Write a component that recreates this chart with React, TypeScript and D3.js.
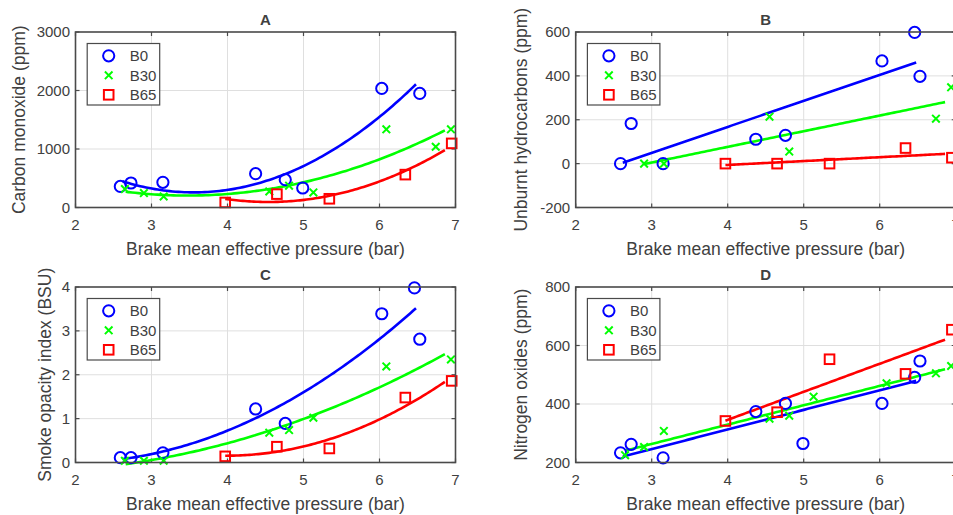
import React from 'react';
import * as d3 from 'd3';

// ---- data ----
const N = NaN;
const SERIES = ['B0', 'B30', 'B65'];
const BMEP_B0 = [2.59, 2.73, 3.15, 4.37, 4.76, 4.99, 6.03, 6.46, 6.53];
const BMEP_B30 = [2.65, 2.9, 3.16, 4.55, 4.81, 5.13, 6.09, 6.74, 6.94];
const BMEP_B65 = [3.97, 4.65, 5.34, 6.34, 6.95];

const CO_B0 = [361, 419, 430, 579, 476, 333, 2036, N, 1950];
const CO_B30 = [315, 247, 189, 275, 373, 258, 1336, 1038, 1336];
const CO_B65 = [86, 229, 149, 562, 1096];

const HC_B0 = [0, 183, 0, 111, 129, N, 468, 598, 398];
const HC_B30 = [N, 0, 0, 214, 55, N, N, 205, 348];
const HC_B65 = [0, 0, 0, 71, 27];

const SO_B0 = [0.11, 0.11, 0.22, 1.22, 0.89, N, 3.39, 3.98, 2.81];
const SO_B30 = [0.04, 0.04, 0.04, 0.68, 0.74, 1.02, 2.19, N, 2.35];
const SO_B65 = [0.14, 0.36, 0.32, 1.48, 1.86];

const NOX_B0 = [233, 262, 216, 374, 402, 265, 402, 491, 547];
const NOX_B30 = [225, 253, 308, 350, 360, 425, 471, 505, 530];
const NOX_B65 = [342, 372, 553, 503, 654];

const FIT_START = [2.62, 2.66, 3.97];
const FIT_END = [6.48, 6.86, 6.86];

const X_TICKS = [2, 3, 4, 5, 6, 7];
const CO_TICKS = [0, 1000, 2000, 3000];
const HC_TICKS = [-200, 0, 200, 400, 600];
const SO_TICKS = [0, 1, 2, 3, 4];
const NOX_TICKS = [200, 400, 600, 800];

const X_LABEL = 'Brake mean effective pressure (bar)';

// ---- styles / layout ----
const COLORS = ['#0000ff', '#00ff00', '#ff0000'];
const TEXT = '#404040';
const AXIS = '#4a4a4a';
const GRID = '#dfdfdf';
const FONT = '"Liberation Sans", Arial, Helvetica, sans-serif';
const W = 380;
const H = 175.5;

const XS = [BMEP_B0, BMEP_B30, BMEP_B65];

const panels = [
  { title: 'A', left: 75.5, top: 32, ydom: [0, 3000], ticks: CO_TICKS, ylab: 'Carbon monoxide (ppm)', labX: 25, ys: [CO_B0, CO_B30, CO_B65], deg: 2 },
  { title: 'B', left: 575.7, top: 32, ydom: [-200, 600], ticks: HC_TICKS, ylab: 'Unburnt hydrocarbons (ppm)', labX: 527, ys: [HC_B0, HC_B30, HC_B65], deg: 1 },
  { title: 'C', left: 75.5, top: 287, ydom: [0, 4], ticks: SO_TICKS, ylab: 'Smoke opacity index (BSU)', labX: 51, ys: [SO_B0, SO_B30, SO_B65], deg: 2 },
  { title: 'D', left: 575.7, top: 287, ydom: [200, 800], ticks: NOX_TICKS, ylab: 'Nitrogen oxides (ppm)', labX: 527, ys: [NOX_B0, NOX_B30, NOX_B65], deg: 1 },
];

function solve(A: number[][], b: number[]): number[] {
  const n = b.length;
  const M = A.map((r, i) => [...r, b[i]]);
  for (let c = 0; c < n; c++) {
    let p = c;
    for (let r = c + 1; r < n; r++) if (Math.abs(M[r][c]) > Math.abs(M[p][c])) p = r;
    [M[c], M[p]] = [M[p], M[c]];
    for (let r = 0; r < n; r++) {
      if (r === c) continue;
      const f = M[r][c] / M[c][c];
      for (let k = c; k <= n; k++) M[r][k] -= f * M[c][k];
    }
  }
  return M.map((r, i) => r[n] / r[i]);
}

function polyfit(x: number[], y: number[], deg: number): number[] {
  const n = deg + 1;
  const A = Array.from({ length: n }, () => new Array(n).fill(0));
  const b = new Array(n).fill(0);
  x.forEach((xi, k) => {
    for (let i = 0; i < n; i++) {
      b[i] += y[k] * Math.pow(xi, i);
      for (let j = 0; j < n; j++) A[i][j] += Math.pow(xi, i + j);
    }
  });
  return solve(A, b);
}

function Marker({ s, x, y }: { s: number; x: number; y: number }) {
  const c = COLORS[s];
  if (s === 0) return <circle cx={x} cy={y} r={5.6} fill="none" stroke={c} strokeWidth={2} />;
  if (s === 1)
    return (
      <path d={`M${x - 3.8},${y - 3.8}L${x + 3.8},${y + 3.8}M${x - 3.8},${y + 3.8}L${x + 3.8},${y - 3.8}`} stroke={c} strokeWidth={2} fill="none" />
    );
  return <rect x={x - 4.8} y={y - 4.8} width={9.6} height={9.6} fill="none" stroke={c} strokeWidth={2} />;
}

function Panel({ p }: { p: (typeof panels)[number] }) {
  const x = d3.scaleLinear().domain([2, 7]).range([p.left, p.left + W]);
  const y = d3.scaleLinear().domain(p.ydom).range([p.top + H, p.top]);
  const bottom = p.top + H;
  const right = p.left + W;
  const cx = p.left + W / 2;
  const line = d3
    .line<[number, number]>()
    .x((d) => x(d[0]))
    .y((d) => y(d[1]));

  const fits = p.ys.map((ys, s) => {
    const pts = XS[s].map((xv, i) => [xv, ys[i]]).filter((d) => !isNaN(d[1]));
    const coef = polyfit(pts.map((d) => d[0]), pts.map((d) => d[1]), p.deg);
    const x0 = Math.max(FIT_START[s], d3.min(pts, (d) => d[0]) as number);
    const x1 = FIT_END[s];
    const samples: [number, number][] = d3.range(0, 101).map((k) => {
      const xv = x0 + ((x1 - x0) * k) / 100;
      return [xv, coef.reduce((acc, c, i) => acc + c * Math.pow(xv, i), 0)];
    });
    return line(samples) as string;
  });

  const legL = p.left + 11.7;
  const legT = p.top + 11.5;
  return (
    <g>
      {/* grid */}
      {X_TICKS.slice(1, -1).map((t) => (
        <line key={'gx' + t} x1={x(t)} x2={x(t)} y1={p.top} y2={bottom} stroke={GRID} strokeWidth={1} />
      ))}
      {p.ticks.slice(1, -1).map((t) => (
        <line key={'gy' + t} x1={p.left} x2={right} y1={y(t)} y2={y(t)} stroke={GRID} strokeWidth={1} />
      ))}
      {/* ticks */}
      {X_TICKS.map((t) => (
        <g key={'tx' + t}>
          <line x1={x(t)} x2={x(t)} y1={bottom} y2={bottom - 4} stroke={AXIS} strokeWidth={1.2} />
          <line x1={x(t)} x2={x(t)} y1={p.top} y2={p.top + 4} stroke={AXIS} strokeWidth={1.2} />
          <text x={x(t)} y={bottom + 22.5} textAnchor="middle" fontSize={15} fill={TEXT}>
            {t}
          </text>
        </g>
      ))}
      {p.ticks.map((t) => (
        <g key={'ty' + t}>
          <line x1={p.left} x2={p.left + 4} y1={y(t)} y2={y(t)} stroke={AXIS} strokeWidth={1.2} />
          <line x1={right} x2={right - 4} y1={y(t)} y2={y(t)} stroke={AXIS} strokeWidth={1.2} />
          <text x={p.left - 5.5} y={y(t) + 5.3} textAnchor="end" fontSize={15} fill={TEXT}>
            {t}
          </text>
        </g>
      ))}
      {/* fits */}
      {fits.map((d, s) => (
        <path key={'f' + s} d={d} fill="none" stroke={COLORS[s]} strokeWidth={2.6} />
      ))}
      {/* markers */}
      {p.ys.map((ys, s) =>
        ys.map((v, i) => (isNaN(v) ? null : <Marker key={`m${s}-${i}`} s={s} x={x(XS[s][i])} y={y(v)} />))
      )}
      {/* box */}
      <rect x={p.left} y={p.top} width={W} height={H} fill="none" stroke={AXIS} strokeWidth={1.6} />
      {/* title */}
      <text x={cx} y={p.top - 7.5} textAnchor="middle" fontSize={15} fontWeight="bold" fill={TEXT}>
        {p.title}
      </text>
      {/* axis labels */}
      <text x={cx} y={bottom + 47} textAnchor="middle" fontSize={17.5} fill={TEXT}>
        {X_LABEL}
      </text>
      <text transform={`translate(${p.labX},${p.top + H / 2}) rotate(-90)`} textAnchor="middle" fontSize={17.5} fill={TEXT}>
        {p.ylab}
      </text>
      {/* legend */}
      <rect x={legL} y={legT} width={72.5} height={61.5} fill="#fff" stroke={AXIS} strokeWidth={1.2} />
      {SERIES.map((name, s) => (
        <g key={'l' + s}>
          <Marker s={s} x={legL + 21.5} y={legT + 12.3 + s * 19.5} />
          <text x={legL + 42.5} y={legT + 12.3 + s * 19.5 + 5.3} fontSize={15} fill={TEXT}>
            {name}
          </text>
        </g>
      ))}
    </g>
  );
}

export default function App() {
  return (
    <svg
      width={953}
      height={515}
      style={{ position: 'absolute', left: 0, top: 0, background: '#fff' }}
      fontFamily={FONT}
    >
      <rect width={953} height={515} fill="#fff" />
      {panels.map((p) => (
        <Panel key={p.title} p={p} />
      ))}
    </svg>
  );
}
